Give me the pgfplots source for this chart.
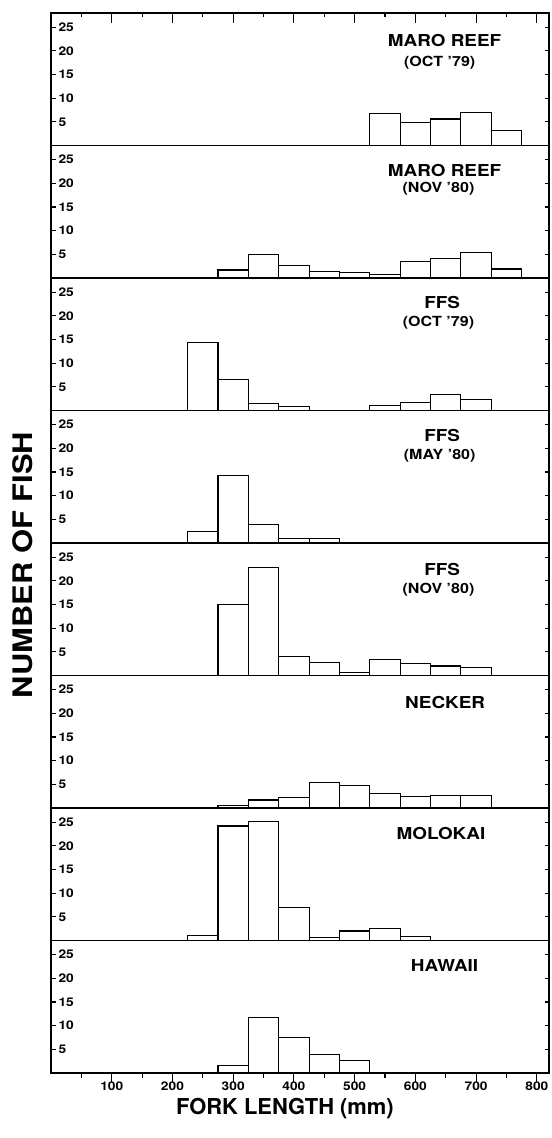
\documentclass[border=0pt]{standalone}
\usepackage{fontspec}
\setmainfont{TeX Gyre Heros}
\newfontfamily\widefont[FakeStretch=1.15]{TeX Gyre Heros}
\usepackage{pgfplots}
\pgfplotsset{compat=1.18}
\newcommand\tickfont{\widefont\bfseries\fontsize{12}{12}\selectfont}
\pgfplotsset{
  panel/.style={scale only axis, width=498bp, height=132.5bp,
    xmin=0, xmax=820, ymin=0, ymax=28,
    axis line style={line width=1.5pt},
    ytick={5,10,15,20,25}, xtick=\empty, tick align=inside,
    major tick length=4.5bp,
    every tick/.style={line width=1.1pt, black},
    yticklabel style={anchor=west, xshift=4bp, font=\tickfont},
    /pgf/number format/assume math mode=true,
    anchor=north west},
  bars/.style={ybar interval, draw=black, fill=white, line width=1.1pt}
}
\tikzset{
  ttl/.style={font=\widefont\bfseries\fontsize{16.5}{16.5}\selectfont},
  sub/.style={font=\widefont\bfseries\fontsize{14}{14}\selectfont}
}
\begin{document}
\begin{tikzpicture}
\path (-51bp,13bp) rectangle (500bp,-1125bp);
% 1 MARO REEF OCT 79
\begin{axis}[panel, at={(0,0)}]
\addplot[bars] coordinates {(525,6.8)(575,4.9)(625,5.6)(675,6.9)(725,3.2)(775,0)};
\node[ttl] at (axis cs:648,22.1) {MARO REEF};
\node[sub] at (axis cs:640,17.4) {(OCT ’79)};
\end{axis}
\begin{axis}[scale only axis, width=498bp, height=132.5bp, at={(0,0)}, anchor=north west,
  xmin=0, xmax=820, ymin=0, ymax=28, hide y axis, axis x line*=top,
  axis line style={line width=1.5pt},
  xtick={100,200,...,800}, minor xtick={50,150,...,750}, xticklabels={},
  tick align=inside, major tick length=10bp, minor tick length=4.5bp,
  every tick/.style={line width=1.1pt, black}]
\addplot[draw=none] coordinates {(0,0)};
\end{axis}
% 2 MARO REEF NOV 80
\begin{axis}[panel, at={(0,-132.5bp)}]
\addplot[bars] coordinates {(275,1.7)(325,5.0)(375,2.7)(425,1.3)(475,1.2)(525,0.8)(575,3.5)(625,4.2)(675,5.4)(725,1.9)(775,0)};
\node[ttl] at (axis cs:648,22.7) {MARO REEF};
\node[sub] at (axis cs:638,18.9) {(NOV ’80)};
\end{axis}
% 3 FFS OCT 79
\begin{axis}[panel, at={(0,-265bp)}]
\addplot[bars] coordinates {(225,14.4)(275,6.6)(325,1.4)(375,0.85)(425,0)(475,0)(525,1.1)(575,1.6)(625,3.4)(675,2.3)(725,0)};
\node[ttl] at (axis cs:644,22.9) {FFS};
\node[sub] at (axis cs:638,18.5) {(OCT ’79)};
\end{axis}
% 4 FFS MAY 80
\begin{axis}[panel, at={(0,-397.5bp)}]
\addplot[bars] coordinates {(225,2.4)(275,14.3)(325,3.9)(375,0.9)(425,0.9)(475,0)};
\node[ttl] at (axis cs:644,22.7) {FFS};
\node[sub] at (axis cs:640,18.5) {(MAY ’80)};
\end{axis}
% 5 FFS NOV 80
\begin{axis}[panel, at={(0,-530bp)}]
\addplot[bars] coordinates {(275,15.0)(325,22.8)(375,4.1)(425,2.7)(475,0.6)(525,3.3)(575,2.6)(625,2.0)(675,1.6)(725,0)};
\node[ttl] at (axis cs:644,22.3) {FFS};
\node[sub] at (axis cs:638,18.1) {(NOV ’80)};
\end{axis}
% 6 NECKER
\begin{axis}[panel, at={(0,-662.5bp)}]
\addplot[bars] coordinates {(275,0.6)(325,1.7)(375,2.2)(425,5.4)(475,4.7)(525,3.1)(575,2.4)(625,2.6)(675,2.6)(725,0)};
\node[ttl] at (axis cs:649,22.3) {NECKER};
\end{axis}
% 7 MOLOKAI
\begin{axis}[panel, at={(0,-795bp)}]
\addplot[bars] coordinates {(225,1.1)(275,24.2)(325,25.2)(375,6.9)(425,0.6)(475,2.0)(525,2.5)(575,0.9)(625,0)};
\node[ttl] at (axis cs:642,22.7) {MOLOKAI};
\end{axis}
% 8 HAWAII
\begin{axis}[panel, at={(0,-927.5bp)}]
\addplot[bars] coordinates {(275,1.6)(325,11.7)(375,7.5)(425,4.0)(475,2.6)(525,0)};
\node[ttl] at (axis cs:648,22.7) {HAWAII};
\end{axis}
\begin{axis}[scale only axis, width=498bp, height=132.5bp, at={(0,-927.5bp)}, anchor=north west,
  xmin=0, xmax=820, ymin=0, ymax=28, hide y axis, axis x line*=bottom,
  axis line style={line width=1.5pt},
  xtick={100,200,...,800}, minor xtick={50,150,...,750},
  xticklabel style={font=\tickfont, yshift=4bp},
  /pgf/number format/assume math mode=true,
  tick align=outside, major tick length=9bp, minor tick length=4.5bp,
  every tick/.style={line width=1.1pt, black}]
\addplot[draw=none] coordinates {(0,0)};
\end{axis}
\node[rotate=90, font=\widefont\bfseries\fontsize{27}{27}\selectfont] at (-28.5bp,-552bp) {NUMBER OF FISH};
\node[font=\bfseries\fontsize{22}{22}\selectfont] at (234bp,-1096bp) {FORK LENGTH (mm)};
\end{tikzpicture}
\end{document}
